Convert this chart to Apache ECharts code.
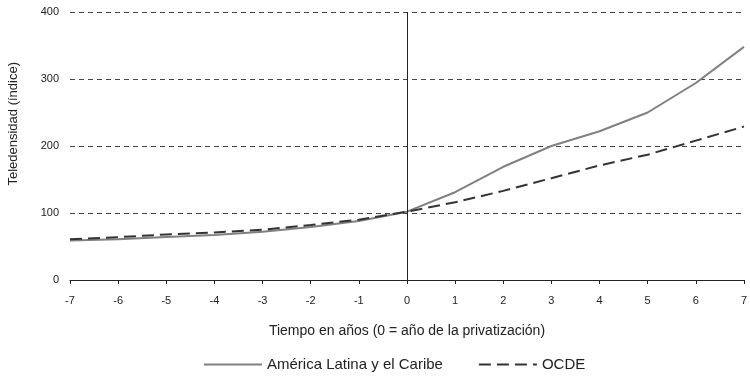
<!DOCTYPE html>
<html>
<head>
<meta charset="utf-8">
<script src="https://cdn.jsdelivr.net/npm/echarts@6/dist/echarts.min.js"></script>
<style>
html,body{margin:0;padding:0;background:#fff;}
#chart{width:750px;height:377px;}
</style>
</head>
<body>
<div id="chart"></div>
<script>
const years = ['-7','-6','-5','-4','-3','-2','-1','0','1','2','3','4','5','6','7'];
const latam = [59, 61, 64, 67, 72, 79, 88, 102, 131, 169, 200, 222, 250, 294, 348];
const ocde  = [61, 64, 68, 71, 75, 82, 90, 102, 116, 133, 152, 171, 187, 208, 229];
const seriesNames = ['América Latina y el Caribe', 'OCDE'];
const xTitle = 'Tiempo en años (0 = año de la privatización)';
const yTitle = 'Teledensidad (índice)';

const font = 'Liberation Sans, Arial, Helvetica, sans-serif';
const chart = echarts.init(document.getElementById('chart'), null, {renderer:'canvas'});
chart.setOption({
  animation: false,
  backgroundColor: '#fff',
  textStyle: {fontFamily: font},
  grid: {left: 70, right: 0, top: 12, bottom: 97, containLabel: false},
  legend: {
    show: true,
    left: 198, bottom: 0,
    orient: 'horizontal',
    itemWidth: 58, itemHeight: 14, itemGap: 35,
    itemStyle: {opacity: 0, borderWidth: 0},
    textStyle: {fontSize: 15, color: '#222', fontFamily: font},
    data: seriesNames
  },
  graphic: [{
    type: 'text', left: 7, top: 62,
    rotation: Math.PI/2,
    style: {text: yTitle, fontSize: 13, fill: '#222', fontFamily: font}
  }],
  xAxis: {
    type: 'category', data: years, boundaryGap: false,
    name: xTitle, nameLocation: 'middle', nameGap: 44,
    nameTextStyle: {fontSize: 14, color: '#222', fontFamily: font},
    axisLine: {lineStyle: {color: '#222', width: 1}},
    axisTick: {show: true, length: 4, lineStyle: {color: '#222'}},
    axisLabel: {fontSize: 11, color: '#222', margin: 15, fontFamily: font, alignMaxLabel: 'center', alignMinLabel: 'center'},
    splitLine: {show: false}
  },
  yAxis: {
    type: 'value', min: 0, max: 400, interval: 100,
    axisLine: {show: false}, axisTick: {show: false},
    axisLabel: {fontSize: 11, color: '#222', margin: 11, fontFamily: font},
    splitLine: {show: true, lineStyle: {color: '#444', type: [5,4], width: 1}}
  },
  series: [
    {
      name: seriesNames[0], type: 'line', data: latam,
      symbol: 'none', smooth: false,
      lineStyle: {color: '#808080', width: 2},
      itemStyle: {color: '#808080'},
      markLine: {
        silent: true, symbol: 'none', label: {show: false},
        lineStyle: {color: '#222', type: 'solid', width: 1},
        data: [{xAxis: '0'}]
      },
      z: 3
    },
    {
      name: seriesNames[1], type: 'line', data: ocde,
      symbol: 'none', smooth: false,
      lineStyle: {color: '#333', width: 2, type: [12,6]},
      itemStyle: {color: '#333'},
      z: 4
    }
  ]
});
</script>
</body>
</html>
